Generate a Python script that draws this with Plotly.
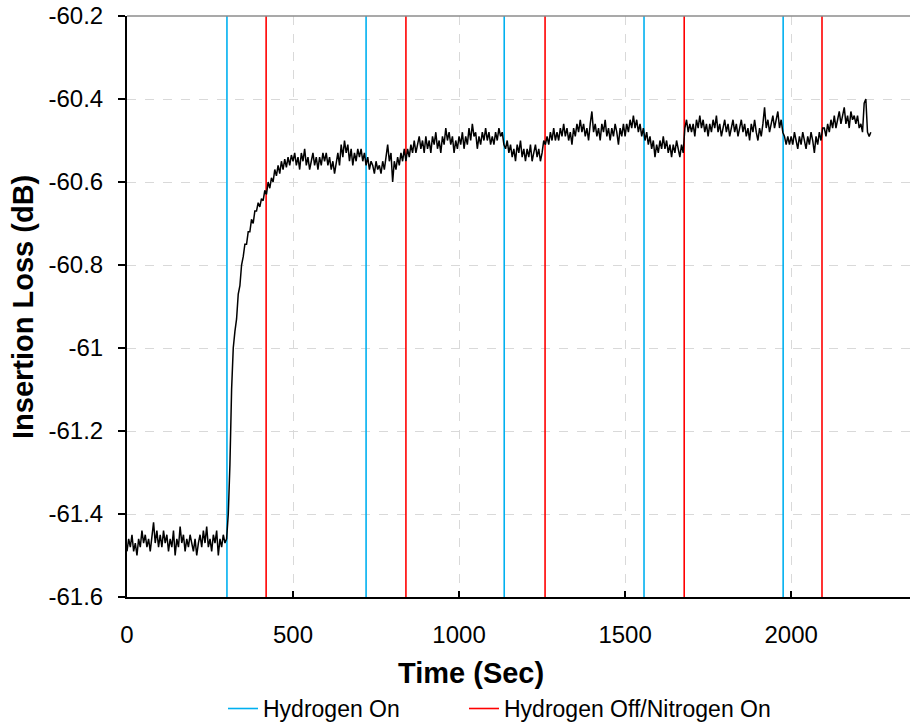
import plotly.graph_objects as go

# ---- data (one value every 5 s) ----
sample_step_sec = 5
insertion_loss_db = [
    # 0-95 s
    -61.49, -61.46, -61.48, -61.45, -61.49, -61.47, -61.50, -61.46, -61.48, -61.44,
    -61.47, -61.45, -61.48, -61.46, -61.49, -61.45, -61.42, -61.47, -61.44, -61.48,
    # 100-195 s
    -61.45, -61.48, -61.44, -61.47, -61.45, -61.49, -61.46, -61.48, -61.44, -61.50,
    -61.46, -61.48, -61.43, -61.47, -61.45, -61.49, -61.46, -61.48, -61.45, -61.47,
    # 200-295 s
    -61.49, -61.46, -61.50, -61.47, -61.45, -61.48, -61.44, -61.47, -61.43, -61.48,
    -61.46, -61.49, -61.45, -61.47, -61.44, -61.50, -61.46, -61.48, -61.45, -61.47,
    # 300-395 s
    -61.46, -61.40, -61.28, -61.10, -61.00, -60.96, -60.93, -60.87, -60.85, -60.80,
    -60.78, -60.75, -60.75, -60.72, -60.72, -60.69, -60.70, -60.67, -60.67, -60.65,
    # 400-495 s
    -60.66, -60.64, -60.645, -60.62, -60.63, -60.60, -60.615, -60.59, -60.60, -60.57,
    -60.585, -60.56, -60.58, -60.55, -60.57, -60.545, -60.565, -60.54, -60.56, -60.535,
    # 500-595 s
    -60.55, -60.53, -60.56, -60.54, -60.57, -60.53, -60.55, -60.52, -60.56, -60.54,
    -60.57, -60.55, -60.53, -60.56, -60.54, -60.57, -60.54, -60.56, -60.53, -60.55,
    # 600-695 s
    -60.53, -60.56, -60.54, -60.57, -60.55, -60.58, -60.55, -60.53, -60.56, -60.51,
    -60.54, -60.50, -60.53, -60.51, -60.55, -60.52, -60.56, -60.53, -60.55, -60.52,
    # 700-795 s
    -60.54, -60.52, -60.55, -60.53, -60.56, -60.54, -60.57, -60.55, -60.56, -60.58,
    -60.55, -60.57, -60.56, -60.58, -60.55, -60.57, -60.54, -60.51, -60.55, -60.53,
    # 800-895 s
    -60.60, -60.55, -60.57, -60.54, -60.56, -60.53, -60.55, -60.52, -60.55, -60.52,
    -60.54, -60.51, -60.53, -60.50, -60.53, -60.51, -60.49, -60.52, -60.50, -60.53,
    # 900-995 s
    -60.49, -60.52, -60.50, -60.53, -60.49, -60.51, -60.48, -60.52, -60.50, -60.53,
    -60.49, -60.51, -60.47, -60.50, -60.48, -60.51, -60.49, -60.53, -60.50, -60.52,
    # 1000-1095 s
    -60.49, -60.51, -60.48, -60.52, -60.49, -60.51, -60.47, -60.50, -60.46, -60.49,
    -60.48, -60.52, -60.49, -60.51, -60.48, -60.50, -60.47, -60.50, -60.48, -60.51,
    # 1100-1195 s
    -60.49, -60.51, -60.48, -60.50, -60.47, -60.49, -60.48, -60.51, -60.52, -60.50,
    -60.53, -60.51, -60.54, -60.52, -60.55, -60.51, -60.53, -60.50, -60.54, -60.52,
    # 1200-1295 s
    -60.55, -60.52, -60.54, -60.51, -60.55, -60.53, -60.51, -60.54, -60.52, -60.55,
    -60.53, -60.50, -60.51, -60.49, -60.51, -60.48, -60.50, -60.47, -60.50, -60.48,
    # 1300-1395 s
    -60.50, -60.47, -60.49, -60.46, -60.49, -60.47, -60.50, -60.48, -60.51, -60.47,
    -60.49, -60.46, -60.48, -60.45, -60.48, -60.46, -60.49, -60.47, -60.50, -60.46,
    # 1400-1495 s
    -60.43, -60.48, -60.46, -60.49, -60.47, -60.50, -60.46, -60.48, -60.45, -60.49,
    -60.47, -60.50, -60.47, -60.49, -60.46, -60.48, -60.51, -60.47, -60.49, -60.46,
    # 1500-1595 s
    -60.49, -60.46, -60.48, -60.45, -60.47, -60.44, -60.47, -60.45, -60.48, -60.46,
    -60.49, -60.47, -60.50, -60.48, -60.51, -60.49, -60.52, -60.50, -60.54, -60.51,
    # 1600-1695 s
    -60.53, -60.50, -60.52, -60.49, -60.52, -60.50, -60.53, -60.51, -60.54, -60.51,
    -60.53, -60.50, -60.52, -60.54, -60.51, -60.53, -60.47, -60.45, -60.48, -60.46,
    # 1700-1795 s
    -60.48, -60.46, -60.49, -60.45, -60.47, -60.44, -60.47, -60.45, -60.48, -60.46,
    -60.49, -60.46, -60.48, -60.45, -60.47, -60.44, -60.48, -60.46, -60.49, -60.47,
    # 1800-1895 s
    -60.45, -60.48, -60.46, -60.49, -60.47, -60.45, -60.48, -60.46, -60.49, -60.47,
    -60.45, -60.48, -60.46, -60.49, -60.47, -60.50, -60.46, -60.48, -60.45, -60.48,
    # 1900-1995 s
    -60.50, -60.47, -60.49, -60.46, -60.42, -60.47, -60.45, -60.48, -60.46, -60.44,
    -60.47, -60.45, -60.43, -60.47, -60.45, -60.48, -60.49, -60.51, -60.49, -60.51,
    # 2000-2095 s
    -60.49, -60.51, -60.48, -60.50, -60.52, -60.49, -60.51, -60.48, -60.50, -60.52,
    -60.49, -60.51, -60.48, -60.50, -60.53, -60.49, -60.51, -60.48, -60.50, -60.47,
    # 2100-2195 s
    -60.47, -60.49, -60.46, -60.48, -60.45, -60.47, -60.44, -60.47, -60.45, -60.43,
    -60.46, -60.44, -60.42, -60.46, -60.44, -60.47, -60.43, -60.45, -60.44, -60.46,
    # 2200-2240 s
    -60.44, -60.47, -60.46, -60.48, -60.41, -60.40, -60.48, -60.49, -60.48,
]
time_sec = [i * sample_step_sec for i in range(len(insertion_loss_db))]

hydrogen_on_sec = [301, 720, 1136, 1557, 1976]
hydrogen_off_sec = [419, 840, 1259, 1678, 2093]

x_tickvals = [0, 500, 1000, 1500, 2000]
x_ticktext = ["0", "500", "1000", "1500", "2000"]
y_tickvals = [-61.6, -61.4, -61.2, -61.0, -60.8, -60.6, -60.4, -60.2]
y_ticktext = ["-61.6", "-61.4", "-61.2", "-61", "-60.8", "-60.6", "-60.4", "-60.2"]
Y_MIN, Y_MAX = -61.6, -60.2
X_MAX = 2358

FONT = "Liberation Sans, Arial, sans-serif"


def vlines(times):
    xs, ys = [], []
    for t in times:
        xs += [t, t, None]
        ys += [Y_MIN, Y_MAX, None]
    return xs, ys


fig = go.Figure()
xs, ys = vlines(hydrogen_on_sec)
fig.add_trace(go.Scatter(x=xs, y=ys, mode="lines", name="Hydrogen On",
                         line=dict(color="#00B0F0", width=1.6)))
xs, ys = vlines(hydrogen_off_sec)
fig.add_trace(go.Scatter(x=xs, y=ys, mode="lines", name="Hydrogen Off/Nitrogen On",
                         legendwidth=300,
                         line=dict(color="#FF0000", width=1.6)))
fig.add_trace(go.Scatter(x=time_sec, y=insertion_loss_db, mode="lines",
                         showlegend=False, line=dict(color="#000000", width=1.5)))

fig.update_layout(
    width=911, height=725,
    margin=dict(l=127, r=1, t=16, b=128, autoexpand=False),
    paper_bgcolor="white", plot_bgcolor="white",
    font=dict(family=FONT, color="#000000", size=24),
    legend=dict(orientation="h", x=0.1226, xanchor="left", y=-0.192, yanchor="middle",
                font=dict(size=23), entrywidth=196, entrywidthmode="pixels",
                bgcolor="rgba(0,0,0,0)"),
    xaxis=dict(range=[0, X_MAX], tickvals=x_tickvals, ticktext=x_ticktext,
               ticks="inside", ticklen=6, tickwidth=2, tickcolor="#000",
               showline=True, linecolor="#000", linewidth=2,
               showgrid=True, gridcolor="#d9d9d9", griddash="dash", gridwidth=1,
               zeroline=False, ticklabelstandoff=15, automargin=False,
               tickfont=dict(size=24)),
    yaxis=dict(range=[Y_MIN, Y_MAX], tickvals=y_tickvals, ticktext=y_ticktext,
               ticks="outside", ticklen=7, tickwidth=2, tickcolor="#000",
               showline=True, linecolor="#000", linewidth=2,
               showgrid=True, gridcolor="#d9d9d9", griddash="dash", gridwidth=1,
               zeroline=False, ticklabelstandoff=10, automargin=False,
               tickfont=dict(size=24)),
    shapes=[dict(type="line", xref="paper", yref="paper", x0=0, x1=1, y0=1, y1=1,
                 line=dict(color="#8c8c8c", width=1.5))],
    annotations=[
        dict(text="<b>Time (Sec)</b>", xref="paper", yref="paper",
             x=0.4393, y=-0.131, xanchor="center", yanchor="middle",
             showarrow=False, font=dict(size=29)),
        dict(text="<b>Insertion Loss (dB)</b>", xref="paper", yref="paper",
             x=-0.1335, y=0.5, xanchor="center", yanchor="middle", textangle=-90,
             showarrow=False, font=dict(size=29)),
    ],
)

fig.write_html("out.html")
